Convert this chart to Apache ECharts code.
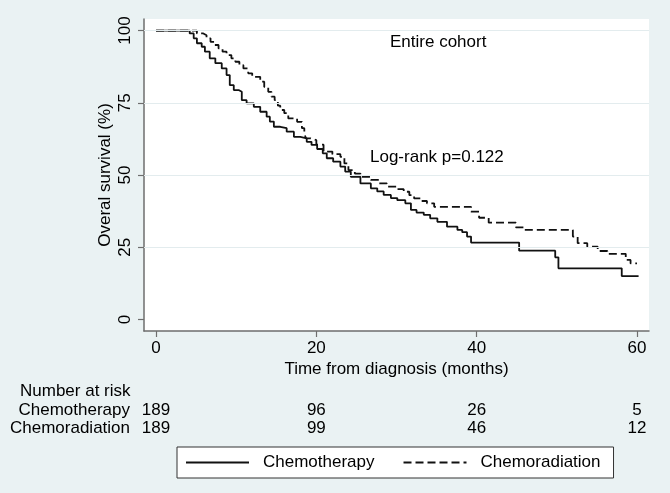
<!DOCTYPE html>
<html>
<head>
<meta charset="utf-8">
<script src="https://cdn.jsdelivr.net/npm/echarts@6/dist/echarts.min.js"></script>
<style>
  html, body { margin: 0; padding: 0; background: #eaf2f3; }
  #km { width: 670px; height: 493px; }
</style>
</head>
<body>
<div id="km"></div>
<script>
// Kaplan-Meier steps: [months, survival %]
var chemoCurve = [
  [0, 100], [3.8, 100], [4.2, 99.0], [4.7, 97.3], [5.1, 95.6], [5.7, 94.4], [6.1, 92.7],
  [6.7, 90.4], [7.4, 88.7], [8.2, 86.9], [8.8, 84.6], [9.2, 81.1], [9.7, 79.4], [10.3, 78.8],
  [10.7, 75.9], [11.3, 74.8], [12.2, 73.6], [13.0, 71.9], [13.8, 70.2], [14.2, 68.5], [14.7, 66.7],
  [15.5, 66.2], [16.3, 65.0], [17.2, 63.2], [18.0, 62.7], [18.8, 61.5], [19.4, 60.4], [20.1, 59.0],
  [20.8, 57.5], [21.3, 55.8], [22.1, 54.6], [23.0, 52.9], [23.6, 51.2], [24.3, 49.4], [25.5, 47.1],
  [26.8, 45.4], [27.6, 44.3], [28.4, 43.1], [29.3, 42.0], [30.1, 41.3], [31.1, 40.2], [31.8, 37.9],
  [32.5, 37.0], [33.4, 36.2], [34.2, 35.0], [35.1, 33.8], [36.3, 32.1], [37.6, 31.0], [38.2, 30.2],
  [38.8, 28.7], [39.3, 26.6], [45.3, 23.8], [49.8, 21.5], [50.2, 17.7], [58.1, 15.0], [60.2, 15.0]
];
var chemoradCurve = [
  [0, 100], [4.5, 100], [5.1, 99.0], [5.9, 98.4], [6.3, 97.3], [6.8, 96.1], [7.3, 95.0],
  [7.8, 93.8], [8.3, 92.7], [8.8, 91.5], [9.4, 90.4], [9.9, 89.2], [10.4, 88.0], [10.9, 86.9],
  [11.5, 85.2], [12.0, 84.0], [13.0, 82.3], [13.5, 80.5], [14.0, 78.8], [14.4, 77.1], [14.8, 75.9],
  [15.2, 74.0], [15.5, 72.5], [16.0, 71.4], [16.5, 69.6], [17.6, 68.4], [18.2, 66.2], [18.5, 64.4],
  [18.7, 62.7], [19.3, 62.1], [20.0, 60.5], [20.9, 58.1], [22.0, 57.2], [23.0, 56.3], [23.5, 54.0],
  [24.0, 51.7], [24.8, 50.5], [25.5, 49.4], [26.8, 48.3], [27.8, 47.1], [28.8, 46.0], [30.0, 45.1],
  [30.9, 44.2], [31.6, 43.0], [32.2, 41.9], [33.0, 41.0], [33.8, 40.2], [34.7, 39.0], [39.3, 37.3],
  [40.3, 35.2], [41.5, 33.5], [44.9, 31.9], [46.0, 31.0], [52.0, 28.7], [52.6, 26.4], [53.8, 25.2],
  [55.1, 23.7], [56.3, 22.7], [58.6, 20.6], [59.2, 19.4], [60.0, 19.4]
];

var xTicks = [0, 20, 40, 60];
var yTicks = [0, 25, 50, 75, 100];
var yGrid = [25, 50, 75, 100];

// number at risk at each x tick
var riskChemo = [189, 96, 26, 5];
var riskChemorad = [189, 99, 46, 12];

var chartDom = document.getElementById('km');
var myChart = echarts.init(chartDom);
var option;

var FONT = 'Liberation Sans, Arial, sans-serif';
var axisGray = '#6e6e6e';

// extra bottom axes only used to print the risk counts under the ticks
function riskAxis(counts, offset) {
  return {
    type: 'value',
    gridIndex: 0,
    position: 'bottom',
    offset: offset,
    min: -1.5,
    max: 61.5,
    axisLine: { show: false },
    axisTick: { show: false },
    splitLine: { show: false },
    axisLabel: {
      customValues: xTicks,
      margin: 0,
      verticalAlign: 'middle',
      fontSize: 17,
      color: '#000',
      fontFamily: FONT,
      formatter: function (v) {
        return String(counts[xTicks.indexOf(v)]);
      }
    }
  };
}

function label(text, x, y, align) {
  return {
    type: 'text',
    x: x,
    y: y,
    style: { text: text, fill: '#000', font: '17px ' + FONT, align: align || 'left', verticalAlign: 'middle' }
  };
}

option = {
  animation: false,
  backgroundColor: '#eaf2f3',
  textStyle: { fontFamily: FONT },
  grid: {
    left: 144,
    top: 19,
    right: 21,
    bottom: 162,
    show: true,
    backgroundColor: '#ffffff',
    borderWidth: 0,
    outerBoundsMode: 'none'
  },
  legend: {
    left: 177,
    top: 447,
    backgroundColor: '#ffffff',
    borderColor: '#333',
    borderWidth: 1,
    borderRadius: 0,
    padding: [7, 13, 7, 8],
    itemWidth: 63,
    itemHeight: 17,
    itemGap: 28,
    itemStyle: { opacity: 0 },
    textStyle: { fontSize: 17, color: '#000', fontFamily: FONT, padding: [0, 0, 0, 9] },
    data: ['Chemotherapy', 'Chemoradiation']
  },
  xAxis: [
    {
      type: 'value',
      min: -1.5,
      max: 61.5,
      name: 'Time from diagnosis (months)',
      nameLocation: 'middle',
      nameGap: 29.5,
      nameMoveOverlap: false,
      nameTextStyle: { fontSize: 17, color: '#000' },
      axisLine: { show: true, onZero: false, lineStyle: { color: axisGray, width: 1.5 } },
      axisTick: { show: true, customValues: xTicks, length: 6, lineStyle: { color: axisGray, width: 1.2 } },
      splitLine: { show: false },
      axisLabel: { customValues: xTicks, margin: 9, fontSize: 17, color: '#000' }
    },
    riskAxis(riskChemo, 79.5),
    riskAxis(riskChemorad, 97.5)
  ],
  yAxis: {
    type: 'value',
    min: -4,
    max: 104,
    name: 'Overal survival (%)',
    nameLocation: 'middle',
    nameGap: 30,
    nameMoveOverlap: false,
    nameTextStyle: { fontSize: 17, color: '#000' },
    axisLine: { show: true, onZero: false, lineStyle: { color: axisGray, width: 1.5 } },
    axisTick: { show: true, customValues: yTicks, length: 6, lineStyle: { color: axisGray, width: 1.2 } },
    splitLine: { show: false },
    axisLabel: { customValues: yTicks, rotate: 90, margin: 10, fontSize: 17, color: '#000' }
  },
  graphic: [
    label('Number at risk', 20, 391),
    label('Chemotherapy', 130, 410, 'right'),
    label('Chemoradiation', 130, 428, 'right'),
    label('Entire cohort', 390, 42),
    label('Log-rank p=0.122', 370, 157)
  ],
  series: [
    {
      name: 'Chemotherapy',
      type: 'line',
      step: 'end',
      symbol: 'none',
      data: chemoCurve,
      lineStyle: { color: '#111', width: 1.8, type: 'solid' },
      itemStyle: { color: '#111' },
      z: 3,
      markLine: {
        silent: true,
        symbol: 'none',
        label: { show: false },
        lineStyle: { color: '#e3ecee', width: 1, type: 'solid' },
        data: yGrid.map(function (v) { return { yAxis: v }; })
      }
    },
    {
      name: 'Chemoradiation',
      type: 'line',
      step: 'end',
      symbol: 'none',
      data: chemoradCurve,
      lineStyle: { color: '#111', width: 1.8, type: [8, 4] },
      itemStyle: { color: '#111' },
      z: 3
    }
  ]
};

option && myChart.setOption(option);
</script>
</body>
</html>
